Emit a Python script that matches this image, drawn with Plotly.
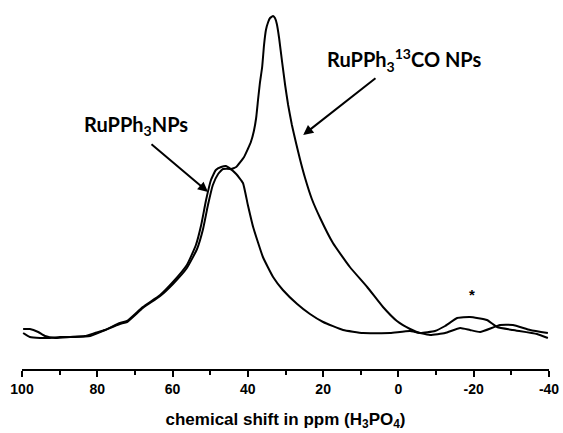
import plotly.graph_objects as go

# RuPPh3 NPs (broad peak ~45 ppm)
ppm_a = [99.7, 97.9, 95.2, 92.6, 89.9, 85.9, 81.9, 77.9, 74.0, 72.1, 67.9, 63.3, 59.9, 56.2,
         53.5, 51.9, 50.6, 49.3, 47.9, 46.6, 44.7, 43.1, 41.3, 40.0, 38.6, 36.0, 33.3, 30.7,
         26.9, 23.5, 20.0, 14.7, 9.4, 2.2, -3.1, -8.4, -12.4, -16.4, -19.0, -21.7, -27.0,
         -30.4, -35.0, -39.7]
int_a = [5, 1, 0, 0, 1, 1, 2, 8, 14, 16, 30, 42, 54, 70,
         89, 109, 133, 153, 164, 169, 169, 164, 155, 133, 111, 81, 61, 48,
         34, 24, 16, 8, 5, 5, 7, 3, 5, 10, 8, 6, 13,
         13, 8, 5]

# RuPPh3 13CO NPs (sharp peak ~33 ppm)
ppm_b = [99.7, 97.9, 95.7, 93.9, 91.2, 87.2, 83.3, 80.6, 77.9, 74.0, 72.1, 67.9, 63.3, 59.9,
         56.2, 53.8, 52.4, 51.1, 49.8, 48.5, 47.1, 45.8, 44.5, 43.1, 41.0, 40.0, 39.2, 38.4,
         37.8, 37.3, 36.8, 36.2, 35.7, 35.2, 34.6, 34.1, 33.3, 32.8, 32.3, 31.7, 30.9, 30.1,
         29.3, 28.3, 27.2, 26.1, 24.8, 23.0, 20.8, 17.4, 12.9, 8.3, 4.1, 0.4, -3.1, -5.7,
         -9.7, -12.4, -15.6, -19.0, -23.5, -26.2, -30.4, -36.8, -39.7]
int_b = [9, 9, 6, 2, 0, 1, 2, 5, 8, 15, 17, 31, 43, 56,
         73, 93, 113, 138, 158, 168, 171, 172, 169, 171, 181, 189, 196, 207,
         220, 238, 255, 271, 293, 308, 316, 320, 322, 320, 314, 300, 276, 253,
         233, 213, 195, 178, 160, 139, 120, 95, 71, 51, 31, 17, 9, 5,
         7, 12, 20, 21, 18, 11, 8, 4, 0]

tick_vals = [100, 80, 60, 40, 20, 0, -20, -40]
tick_text = ["100", "80", "60", "40", "20", "0", "-20", "-40"]

fig = go.Figure()
fig.add_trace(go.Scatter(x=ppm_a, y=int_a, mode="lines",
                         line=dict(color="black", width=2, shape="spline", smoothing=0.4),
                         showlegend=False))
fig.add_trace(go.Scatter(x=ppm_b, y=int_b, mode="lines",
                         line=dict(color="black", width=2, shape="spline", smoothing=0.4),
                         showlegend=False))

lab_font = dict(family="Lato", size=20, color="black")
fig.add_annotation(x=69.8, y=213, xref="x", yref="y", showarrow=False,
                   text="<b>RuPPh<sub>3</sub>NPs</b>", font=lab_font)
fig.add_annotation(x=-1.5, y=278, xref="x", yref="y", showarrow=False,
                   text="<b>RuPPh<sub>3</sub><sup>13</sup>CO NPs</b>", font=lab_font)
fig.add_annotation(x=50.6, y=146, ax=66.0, ay=195, xref="x", yref="y", axref="x", ayref="y",
                   text="", showarrow=True, arrowhead=2, arrowwidth=2, arrowsize=1,
                   arrowcolor="black")
fig.add_annotation(x=25.3, y=203, ax=5.7, ay=261, xref="x", yref="y", axref="x", ayref="y",
                   text="", showarrow=True, arrowhead=2, arrowwidth=2, arrowsize=1,
                   arrowcolor="black")
fig.add_annotation(x=-19.5, y=44, xref="x", yref="y", showarrow=False,
                   text="<b>*</b>", font=dict(family="Liberation Sans", size=15, color="black"))

fig.update_xaxes(range=[100, -40], tickvals=tick_vals, ticktext=tick_text, automargin=False,
                 ticks="outside", ticklen=6, tickwidth=2, tickcolor="black",
                 showline=True, linecolor="black", linewidth=2, showgrid=False, zeroline=False,
                 tickfont=dict(family="Liberation Sans", size=14, color="black", weight="bold"),
                 minor=dict(dtick=10, tick0=0, ticks="outside", ticklen=4, tickwidth=2,
                            tickcolor="black", showgrid=False),
                 title=dict(text="<b>chemical shift in ppm (H<sub>3</sub>PO<sub>4</sub>)</b>",
                            font=dict(family="Liberation Sans", size=17, color="black"),
                            standoff=17))
fig.update_yaxes(range=[-31, 328], visible=False, showgrid=False, zeroline=False,
                 automargin=False)

fig.update_layout(width=563, height=433, margin=dict(l=22, r=14, t=10, b=64),
                  plot_bgcolor="white", paper_bgcolor="white")
fig.write_html("out.html")
